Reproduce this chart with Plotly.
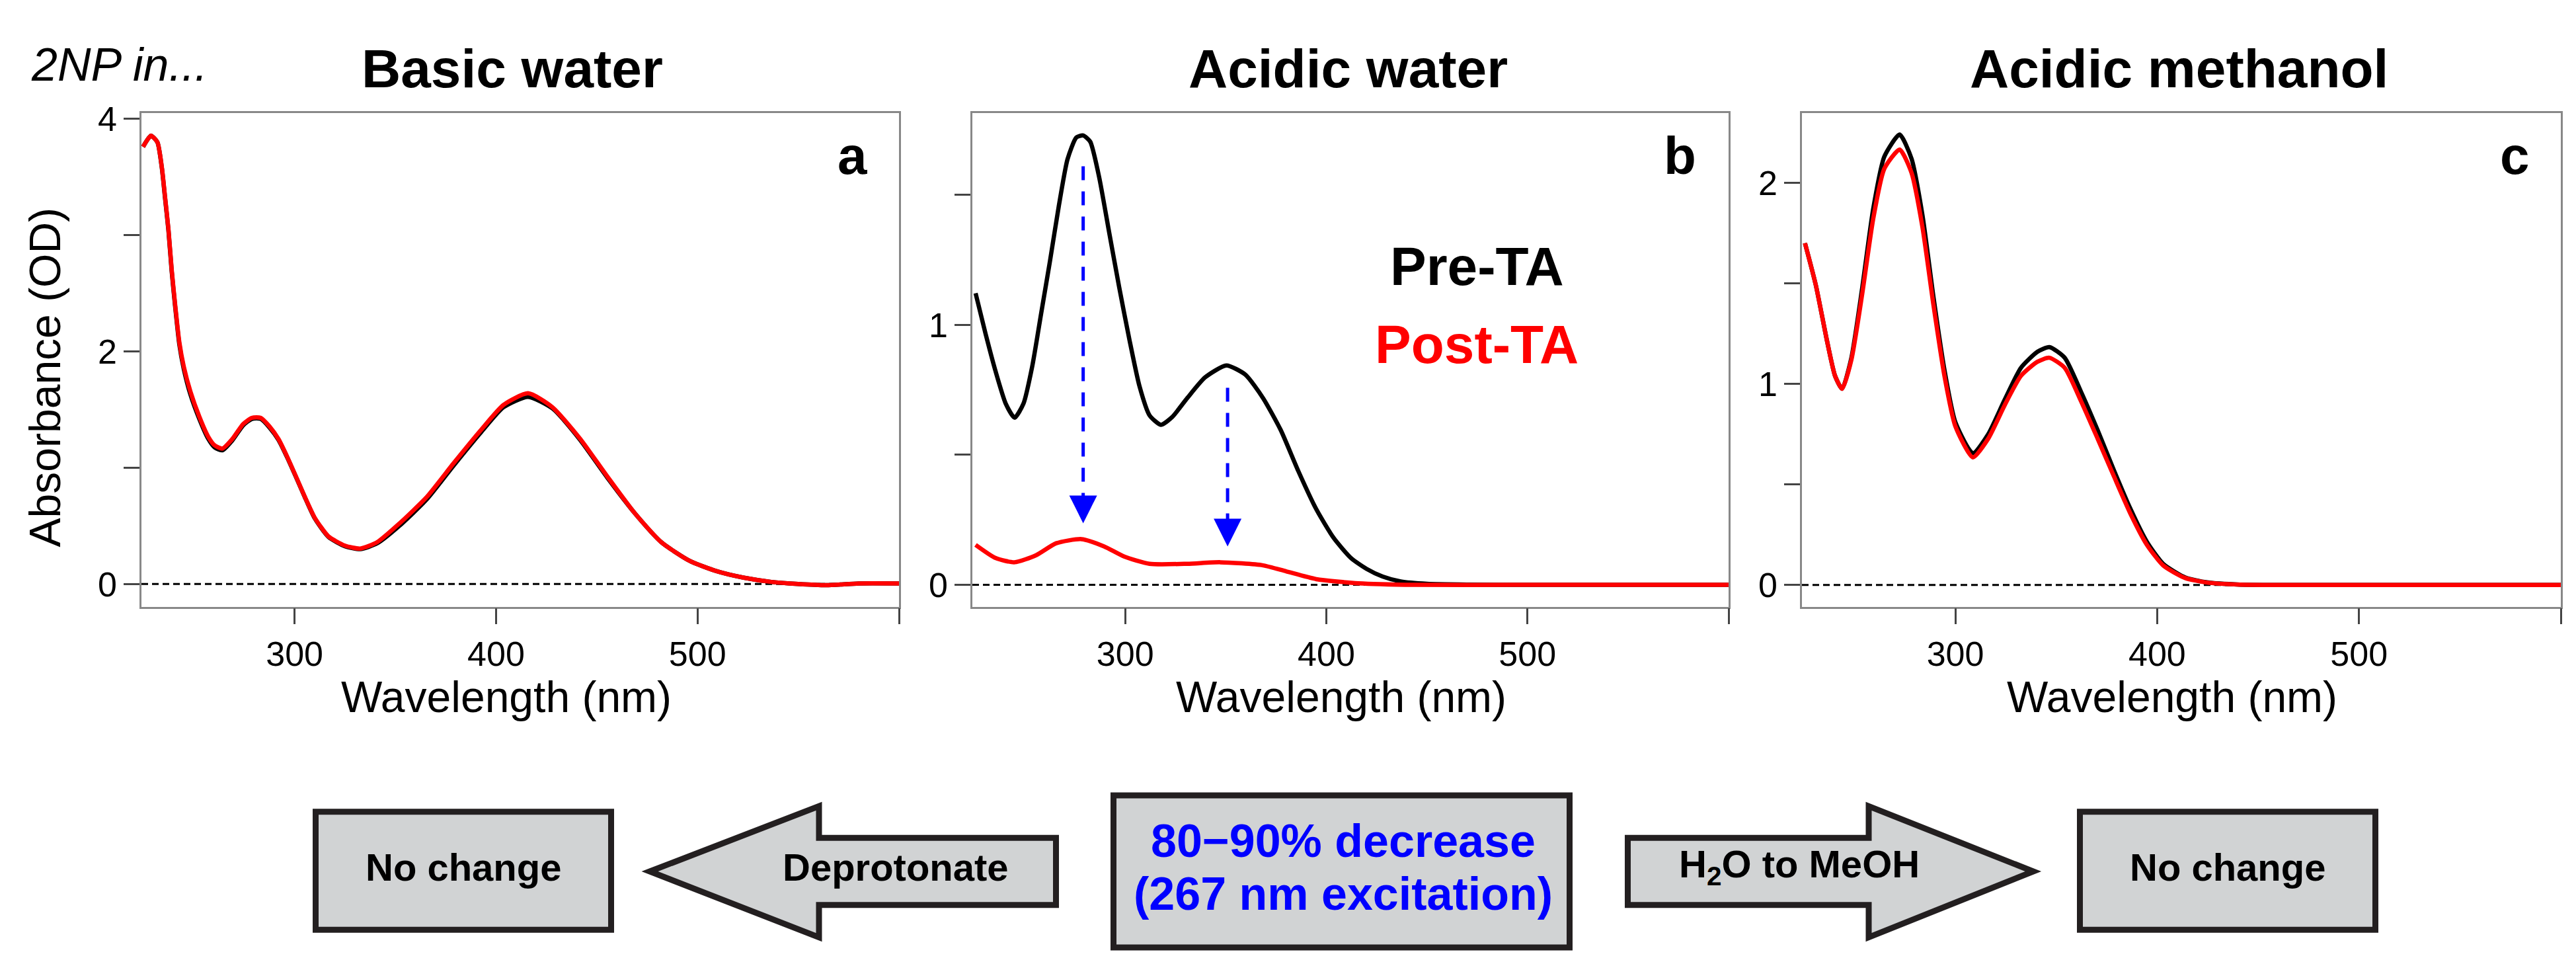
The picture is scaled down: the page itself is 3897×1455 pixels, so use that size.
import plotly.graph_objects as go

W, H = 3897, 1455
FONT = "Arial, Liberation Sans, sans-serif"

# ---- data ----
# panel a: 2NP in basic water
wl_a = [224.8, 228.7, 231.9, 234.1, 235.7, 237.4, 239, 240.7, 242.8, 245,
        248.3, 252.7, 257.1, 260.3, 264.2, 269.1, 274.5, 278.8, 283.2, 287.6,
        292, 296.3, 300.7, 305, 310, 316.8, 325, 332.6, 341, 352,
        365.7, 379, 392.8, 403.7, 415.9, 428, 441.7, 455, 468.8, 482,
        496, 509.5, 523, 536.6, 550, 564, 580, 600]
basic_pre = [3.76, 3.855, 3.80, 3.58, 3.32, 3.04, 2.69, 2.39, 2.06, 1.85,
             1.63, 1.42, 1.25, 1.175, 1.15, 1.235, 1.365, 1.42, 1.42, 1.345,
             1.24, 1.09, 0.92, 0.75, 0.565, 0.405, 0.325, 0.30, 0.35, 0.50,
             0.73, 1.02, 1.31, 1.52, 1.61, 1.51, 1.24, 0.92, 0.61, 0.36,
             0.20, 0.11, 0.054, 0.018, 0.0, -0.01, 0.005, 0.005]
basic_post = [3.76, 3.855, 3.80, 3.587, 3.33, 3.05, 2.705, 2.405, 2.08, 1.87,
              1.655, 1.44, 1.268, 1.193, 1.165, 1.247, 1.376, 1.429, 1.429, 1.354,
              1.247, 1.096, 0.924, 0.753, 0.57, 0.41, 0.33, 0.305, 0.36, 0.52,
              0.75, 1.04, 1.33, 1.54, 1.64, 1.52, 1.25, 0.93, 0.61, 0.36,
              0.20, 0.11, 0.054, 0.018, 0.0, -0.01, 0.005, 0.005]

# panel b: 2NP in acidic water
wl_b_pre = [225.6, 230.6, 235.6, 240.6, 245, 249.4, 253.8, 258.2, 262.6, 267,
            271.3, 275.7, 279.1, 282.6, 287, 292, 297, 302.1, 307.1, 312.1,
            317.7, 323.4, 330.9, 339.7, 350.3, 359.7, 368.5, 377.3, 386, 394.8,
            403.6, 412.3, 419.9, 428, 437, 450, 470, 500, 550, 600]
acidw_pre = [1.122, 0.965, 0.82, 0.697, 0.643, 0.697, 0.842, 1.044, 1.246, 1.458,
             1.637, 1.721, 1.729, 1.705, 1.570, 1.357, 1.145, 0.943, 0.764, 0.652,
             0.616, 0.646, 0.719, 0.798, 0.844, 0.809, 0.719, 0.596, 0.439, 0.294,
             0.181, 0.103, 0.062, 0.032, 0.013, 0.004, 0.001, 0, 0, 0]
wl_b_post = [225.6, 235.6, 245, 255.7, 265.7, 278.3, 289.5, 299.5, 312.1, 330.9,
             347.2, 368.5, 380, 395, 416, 444, 500, 550, 600]
acidw_post = [0.154, 0.103, 0.087, 0.114, 0.16, 0.176, 0.148, 0.109, 0.081, 0.081,
              0.087, 0.075, 0.052, 0.022, 0.006, 0.0, 0.0, 0.0, 0.0]

# panel c: 2NP in acidic methanol
wl_c = [225.5, 230.9, 236.3, 240.4, 243.9, 248.5, 253.9, 259.3, 264.8, 272.4, 278.3,
        283.7, 289.2, 294.6, 300, 308.7, 316.3, 324.4, 332.5, 340.7, 346.6, 354.2,
        362.3, 370.5, 378.6, 386.7, 394.9, 403, 413.8, 424.7, 441, 470, 520, 600]
acidm_pre = [1.70, 1.49, 1.22, 1.04, 0.976, 1.13, 1.48, 1.87, 2.13, 2.24, 2.12,
             1.84, 1.43, 1.07, 0.81, 0.655, 0.75, 0.92, 1.08, 1.16, 1.183, 1.13,
             0.96, 0.77, 0.57, 0.38, 0.215, 0.105, 0.038, 0.013, 0.002, 0, 0, 0]
acidm_post = [1.70, 1.49, 1.22, 1.04, 0.976, 1.12, 1.45, 1.82, 2.07, 2.165, 2.05,
              1.78, 1.39, 1.04, 0.79, 0.635, 0.728, 0.893, 1.04, 1.11, 1.13, 1.08,
              0.914, 0.728, 0.54, 0.356, 0.20, 0.097, 0.035, 0.012, 0.002, 0, 0, 0]

# blue "decrease" arrows in panel b
arrow_wl = [279.1, 350.9]
arrow_top = [1.61, 0.758]
arrow_tip = [0.237, 0.148]

titles = ["Basic water", "Acidic water", "Acidic methanol"]
letters = ["a", "b", "c"]
y_ranges = [[-0.195, 4.05], [-0.084, 1.815], [-0.108, 2.347]]
y_major = [[0, 2, 4], [0, 1], [0, 1, 2]]
y_minor = [[1, 3], [0.5, 1.5], [0.5, 1.5]]
x_major = [300, 400, 500]
x_minor = [600]

# panel pixel boxes (left, right)
panels_px = [(206, 1352), (1463, 2607), (2718, 3866)]
top_px, bottom_px = 145, 902


def px(x):
    return x / W


def py(y):
    return 1 - y / H


fig = go.Figure()

series = [
    (wl_a, basic_pre, wl_a, basic_post),
    (wl_b_pre, acidw_pre, wl_b_post, acidw_post),
    (wl_c, acidm_pre, wl_c, acidm_post),
]
for i, (xp, yp, xq, yq) in enumerate(series):
    sfx = "" if i == 0 else str(i + 1)
    fig.add_trace(go.Scatter(x=xp, y=yp, mode="lines",
                             line=dict(color="black", width=6.5, shape="spline", smoothing=0.6),
                             xaxis="x" + sfx, yaxis="y" + sfx, showlegend=False))
    fig.add_trace(go.Scatter(x=xq, y=yq, mode="lines",
                             line=dict(color="#ff0000", width=6.5, shape="spline", smoothing=0.6),
                             xaxis="x" + sfx, yaxis="y" + sfx, showlegend=False))

# blue dashed arrows (panel b): dashed shaft + arrow head with its tip on the point
for wl, y0, y1 in zip(arrow_wl, arrow_top, arrow_tip):
    fig.add_trace(go.Scatter(x=[wl, wl], y=[y0, y1 + 0.05], mode="lines",
                             line=dict(color="#0000ff", width=5, dash="21px,17px"),
                             xaxis="x2", yaxis="y2", showlegend=False))
    fig.add_trace(go.Scatter(x=[wl], y=[y1], mode="markers",
                             marker=dict(symbol="arrow-down", size=42, color="#0000ff",
                                         line=dict(width=0)),
                             xaxis="x2", yaxis="y2", showlegend=False))

tick_style = dict(ticks="outside", ticklen=24, tickwidth=2.5, tickcolor="#444")
layout = dict(
    width=W, height=H, margin=dict(l=0, r=0, t=0, b=0),
    paper_bgcolor="white", plot_bgcolor="white",
    font=dict(family=FONT, color="black"),
)
for i, (l, r) in enumerate(panels_px):
    sfx = "" if i == 0 else str(i + 1)
    layout["xaxis" + sfx] = dict(
        domain=[px(l), px(r)], range=[224, 600], anchor="y" + sfx,
        tickmode="array", tickvals=x_major, minor=dict(tickvals=x_minor, **tick_style),
        showline=True, linecolor="#888", linewidth=2.5, mirror=True,
        showgrid=False, zeroline=False, tickfont=dict(size=52, family=FONT, color="black"),
        **tick_style,
    )
    layout["yaxis" + sfx] = dict(
        domain=[py(bottom_px), py(top_px)], range=y_ranges[i], anchor="x" + sfx,
        tickmode="array", tickvals=y_major[i], minor=dict(tickvals=y_minor[i], **tick_style),
        showline=True, linecolor="#888", linewidth=2.5, mirror=True,
        showgrid=False, zeroline=False, tickfont=dict(size=52, family=FONT, color="black"),
        **tick_style,
    )
fig.update_layout(**layout)

# dashed zero lines
for i in range(3):
    sfx = "" if i == 0 else str(i + 1)
    fig.add_shape(type="line", xref="x" + sfx + " domain", yref="y" + sfx, x0=0, x1=1, y0=0, y1=0,
                  line=dict(color="black", width=3, dash="10px,6px"), layer="below")

ann = []
title_cx = [767, 2032, 3288]
xlabel_cx = [758, 2021, 3278]
letter_rx = [1306, 2560, 3821]
for i in range(3):
    ann.append(dict(text="<b>%s</b>" % titles[i], x=px(title_cx[i]), y=py(77), xanchor="center", yanchor="middle",
                    font=dict(size=82)))
    ann.append(dict(text="Wavelength (nm)", x=px(xlabel_cx[i]), y=py(1040), xanchor="center", yanchor="middle",
                    font=dict(size=66)))
    ann.append(dict(text="<b>%s</b>" % letters[i], x=px(letter_rx[i]), y=py(210), xanchor="right", yanchor="middle",
                    font=dict(size=80)))
ann.append(dict(text="<i>2NP in...</i>", x=px(37), y=py(71), xanchor="left", yanchor="middle", font=dict(size=70)))
ann.append(dict(text="Absorbance (OD)", x=px(60), y=py(550), textangle=-90, xanchor="center", yanchor="middle",
                font=dict(size=66)))
ann.append(dict(text="<b>Pre-TA</b>", x=px(2226), y=py(380), xanchor="center", yanchor="middle",
                font=dict(size=82, color="black")))
ann.append(dict(text="<b>Post-TA</b>", x=px(2226), y=py(499), xanchor="center", yanchor="middle",
                font=dict(size=82, color="#ff0000")))

# ---- bottom flow diagram ----
box_fill, box_line, bw = "#d1d3d4", "#231f20", 9
boxes = [(465, 1212, 921, 1402), (1672, 1187, 2371, 1429), (3134, 1212, 3590, 1402)]
for x0, y0, x1, y1 in boxes:
    fig.add_shape(type="rect", xref="paper", yref="paper",
                  x0=px(x0 + bw / 2), x1=px(x1 - bw / 2), y0=py(y0 + bw / 2), y1=py(y1 - bw / 2),
                  fillcolor=box_fill, line=dict(color=box_line, width=bw))


def arrow_path(pts):
    return "M " + " L ".join("%.5f,%.5f" % (px(x), py(y)) for x, y in pts) + " Z"


left_arrow = [(975, 1308), (1231, 1208), (1231, 1256.5), (1589.5, 1256.5),
              (1589.5, 1359.5), (1231, 1359.5), (1231, 1409)]
right_arrow = [(2454.5, 1256.5), (2819, 1256.5), (2819, 1208), (3068, 1308),
               (2819, 1409), (2819, 1359.5), (2454.5, 1359.5)]
for pts in (left_arrow, right_arrow):
    fig.add_shape(type="path", xref="paper", yref="paper", path=arrow_path(pts),
                  fillcolor=box_fill, line=dict(color=box_line, width=bw))

for txt, cx in [("No change", 693), ("Deprotonate", 1347), ("H<sub>2</sub>O to MeOH", 2714), ("No change", 3362)]:
    ann.append(dict(text="<b>%s</b>" % txt, x=px(cx), y=py(1301), xanchor="center", yanchor="middle",
                    font=dict(size=58)))
ann.append(dict(text="<b>80\u221290% decrease</b>", x=px(2024), y=py(1261), xanchor="center", yanchor="middle",
                font=dict(size=70, color="#0000ff")))
ann.append(dict(text="<b>(267 nm excitation)</b>", x=px(2024), y=py(1342), xanchor="center", yanchor="middle",
                font=dict(size=70, color="#0000ff")))

for a in ann:
    a.setdefault("xref", "paper")
    a.setdefault("yref", "paper")
    a.setdefault("showarrow", False)
    fig.add_annotation(**a)

fig.write_html("out.html")
